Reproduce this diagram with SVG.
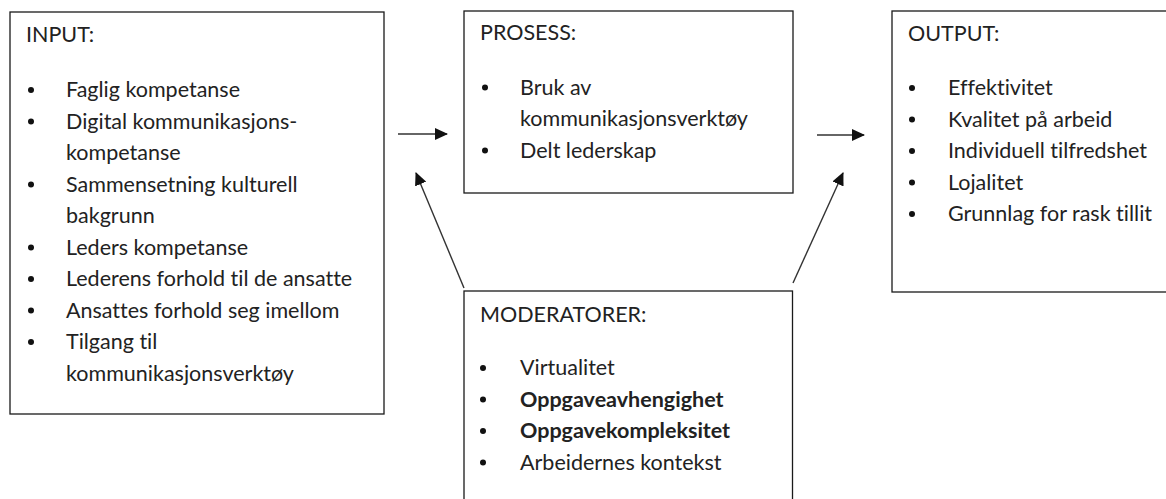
<svg xmlns="http://www.w3.org/2000/svg" width="1166" height="499" viewBox="0 0 1166 499">
  <style>
    .box { fill: #ffffff; stroke: #1a1a1a; stroke-width: 1.3; }
    text { font-family: Lato, "Open Sans", "Liberation Sans", sans-serif; font-size: 21.5px; fill: #222222; font-variant-ligatures: none; }
    .b { font-weight: bold; }
    .dot { fill: #111111; }
    .conn { stroke: #333333; stroke-width: 1.4; fill: none; marker-end: url(#head); }
  </style>
  <defs>
    <marker id="head" viewBox="0 0 13 12" refX="12" refY="6" markerWidth="13" markerHeight="12" markerUnits="userSpaceOnUse" orient="auto">
      <path d="M0,0 L13,6 L0,12 Z" fill="#111111"/>
    </marker>
  </defs>
  <rect width="1166" height="499" fill="#ffffff"/>

  <!-- INPUT -->
  <g id="input">
    <rect class="box" x="10" y="12" width="374" height="402"/>
    <text x="26" y="41.5">INPUT:</text>
    <circle class="dot" cx="31" cy="90" r="3"/>
    <text x="66" y="97">Faglig kompetanse</text>
    <circle class="dot" cx="31" cy="121.5" r="3"/>
    <text x="66" y="128.5">Digital kommunikasjons-</text>
    <text x="66" y="160">kompetanse</text>
    <circle class="dot" cx="31" cy="184.5" r="3"/>
    <text x="66" y="191.5">Sammensetning kulturell</text>
    <text x="66" y="223">bakgrunn</text>
    <circle class="dot" cx="31" cy="247.5" r="3"/>
    <text x="66" y="254.5">Leders kompetanse</text>
    <circle class="dot" cx="31" cy="279" r="3"/>
    <text x="66" y="286">Lederens forhold til de ansatte</text>
    <circle class="dot" cx="31" cy="310.5" r="3"/>
    <text x="66" y="317.5">Ansattes forhold seg imellom</text>
    <circle class="dot" cx="31" cy="342" r="3"/>
    <text x="66" y="349">Tilgang til</text>
    <text x="66" y="380.5">kommunikasjonsverktøy</text>
  </g>

  <!-- PROSESS -->
  <g id="prosess">
    <rect class="box" x="464" y="11" width="329" height="182"/>
    <text x="480" y="40">PROSESS:</text>
    <circle class="dot" cx="485" cy="87.5" r="3"/>
    <text x="520" y="94.5">Bruk av</text>
    <text x="520" y="126">kommunikasjonsverktøy</text>
    <circle class="dot" cx="485" cy="150.5" r="3"/>
    <text x="520" y="157.5">Delt lederskap</text>
  </g>

  <!-- OUTPUT -->
  <g id="output">
    <rect class="box" x="892" y="11" width="280" height="281"/>
    <text x="908" y="40.5">OUTPUT:</text>
    <circle class="dot" cx="912" cy="88" r="3"/>
    <text x="948" y="95">Effektivitet</text>
    <circle class="dot" cx="912" cy="119.5" r="3"/>
    <text x="948" y="126.5">Kvalitet på arbeid</text>
    <circle class="dot" cx="912" cy="151" r="3"/>
    <text x="948" y="158">Individuell tilfredshet</text>
    <circle class="dot" cx="912" cy="182.5" r="3"/>
    <text x="948" y="189.5">Lojalitet</text>
    <circle class="dot" cx="912" cy="214" r="3"/>
    <text x="948" y="221">Grunnlag for rask tillit</text>
  </g>

  <!-- MODERATORER -->
  <g id="moderatorer">
    <rect class="box" x="464" y="291" width="328.5" height="220"/>
    <text x="480" y="321.5">MODERATORER:</text>
    <circle class="dot" cx="483" cy="368" r="3"/>
    <text x="520" y="375">Virtualitet</text>
    <circle class="dot" cx="483" cy="399.5" r="3"/>
    <text class="b" x="520" y="406.5">Oppgaveavhengighet</text>
    <circle class="dot" cx="483" cy="431" r="3"/>
    <text class="b" x="520" y="438">Oppgavekompleksitet</text>
    <circle class="dot" cx="483" cy="462.5" r="3"/>
    <text x="520" y="469.5">Arbeidernes kontekst</text>
  </g>

  <!-- connectors -->
  <g id="connectors">
    <line class="conn" x1="398" y1="134" x2="447" y2="134"/>
    <line class="conn" x1="817" y1="135" x2="864" y2="135"/>
    <line class="conn" x1="464" y1="288" x2="416" y2="173"/>
    <line class="conn" x1="793" y1="283" x2="843" y2="173"/>
  </g>
</svg>
